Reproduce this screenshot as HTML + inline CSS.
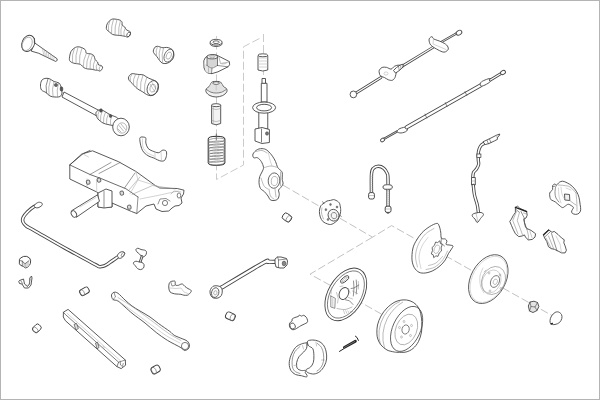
<!DOCTYPE html>
<html><head><meta charset="utf-8"><title>Suspension parts</title>
<style>
html,body{margin:0;padding:0;background:#fff;}
body{width:600px;height:400px;overflow:hidden;font-family:"Liberation Sans",sans-serif;}
.frame{position:absolute;left:0;top:0;width:598px;height:398px;border:1px solid #b4b4b4;background:#fff;}
svg{position:absolute;left:0;top:0;display:block;}
</style></head>
<body><div class="frame"></div>
<svg width="600" height="400" viewBox="0 0 600 400"><path d="M263.5 34 L263.5 100" fill="none" stroke="#cbcbcb" stroke-width="1.0" stroke-dasharray="8 3"/><path d="M259.5 38.5 L243.5 46.75 L243.5 165 L216.5 179.5 L216.5 36" fill="none" stroke="#cbcbcb" stroke-width="1.0" stroke-dasharray="8 3"/><path d="M283 185.1 L372.5 237.2 L391.6 225.6 L560 320" fill="none" stroke="#c2c2c2" stroke-width="1.0" stroke-dasharray="8 3"/><path d="M372.5 237.2 L310 274.2 L346 294" fill="none" stroke="#c2c2c2" stroke-width="1.0" stroke-dasharray="8 3"/><path d="M346 294 L406 328" fill="none" stroke="#c2c2c2" stroke-width="1.0" stroke-dasharray="8 3"/><path d="M34.4 42.7 L56.9 58.6 L57.3 60.3 L55.6 61.4 L38.75 53.3 L31.25 51.1Z" fill="#fff" stroke="#464646" stroke-width="0.9" stroke-linejoin="round" /><path d="M42.27 48.27 L44.15 56.13" fill="none" stroke="#9a9a9a" stroke-width="0.5" stroke-linecap="round" stroke-linejoin="round" /><path d="M44.3 49.7 L45.66 56.86" fill="none" stroke="#9a9a9a" stroke-width="0.5" stroke-linecap="round" stroke-linejoin="round" /><path d="M46.33 51.13 L47.18 57.59" fill="none" stroke="#9a9a9a" stroke-width="0.5" stroke-linecap="round" stroke-linejoin="round" /><path d="M48.35 52.56 L48.7 58.32" fill="none" stroke="#9a9a9a" stroke-width="0.5" stroke-linecap="round" stroke-linejoin="round" /><path d="M50.38 53.99 L50.21 59.05" fill="none" stroke="#9a9a9a" stroke-width="0.5" stroke-linecap="round" stroke-linejoin="round" /><path d="M52.4 55.42 L51.73 59.78" fill="none" stroke="#9a9a9a" stroke-width="0.5" stroke-linecap="round" stroke-linejoin="round" /><path d="M54.42 56.85 L53.25 60.51" fill="none" stroke="#9a9a9a" stroke-width="0.5" stroke-linecap="round" stroke-linejoin="round" /><ellipse cx="28.2" cy="43.4" rx="6.2" ry="8.4" fill="#fff" stroke="#464646" stroke-width="0.9" transform="rotate(24 28.2 43.4)"/><ellipse cx="27.2" cy="43.9" rx="4.6" ry="7" fill="none" stroke="#8a8a8a" stroke-width="0.6" transform="rotate(24 27.2 43.9)"/><path d="M34.4 38.5 L34.4 42.7" fill="none" stroke="#464646" stroke-width="0.9" stroke-linecap="round" stroke-linejoin="round" /><path d="M69.4 58.4 C69.54 56.73 70.08 53.23 71.1 51.4 C72.12 49.57 74.03 48.13 75.5 47.4 C76.97 46.67 78.3 46.63 79.9 47 C81.5 47.37 84.02 48.58 85.1 49.6 C86.18 50.62 85.38 52.37 86.4 53.1 C87.42 53.83 89.95 53.56 91.2 54 C92.45 54.44 93.23 54.8 93.9 55.75 C94.57 56.7 94.62 58.68 95.2 59.7 C95.78 60.73 96.82 61.02 97.4 61.9 C97.98 62.78 98.12 64.42 98.7 65 C99.28 65.58 100.25 65.05 100.9 65.4 C101.55 65.75 102.47 66.38 102.6 67.1 C102.73 67.82 102.2 69.1 101.7 69.75 C101.2 70.4 100.25 70.92 99.6 71 C98.95 71.08 98.47 70.33 97.8 70.2 C97.13 70.07 96.55 70.35 95.6 70.2 C94.65 70.05 93.48 69.52 92.1 69.3 C90.72 69.08 88.68 69.18 87.3 68.9 C85.92 68.62 84.82 68.27 83.8 67.6 C82.78 66.93 82 65.5 81.2 64.9 C80.4 64.3 80.24 64.28 79 64 C77.76 63.72 75.21 63.63 73.75 63.2 C72.29 62.77 70.97 62.2 70.25 61.4 C69.53 60.6 69.26 60.07 69.4 58.4Z" fill="#fff" stroke="#464646" stroke-width="0.9" stroke-linejoin="round" /><path d="M74.5 48 Q71.52 54.98 72.5 62.5" fill="none" stroke="#8c8c8c" stroke-width="0.6" stroke-linecap="round"/><path d="M78 47.2 Q75.01 55.16 76 63.6" fill="none" stroke="#8c8c8c" stroke-width="0.6" stroke-linecap="round"/><path d="M82 47.8 Q78.77 55.7 79.5 64.2" fill="none" stroke="#8c8c8c" stroke-width="0.6" stroke-linecap="round"/><path d="M86.4 53.1 Q82.9 59.72 83.3 67.2" fill="none" stroke="#8c8c8c" stroke-width="0.6" stroke-linecap="round"/><path d="M89.5 53.8 Q86.04 60.8 86.5 68.6" fill="none" stroke="#8c8c8c" stroke-width="0.6" stroke-linecap="round"/><path d="M92.5 55 Q89.28 61.7 90 69.1" fill="none" stroke="#8c8c8c" stroke-width="0.6" stroke-linecap="round"/><path d="M95.2 59.7 Q92.38 64.42 93.5 69.8" fill="none" stroke="#8c8c8c" stroke-width="0.6" stroke-linecap="round"/><path d="M97.8 62.5 Q95.18 66.02 96.5 70.2" fill="none" stroke="#8c8c8c" stroke-width="0.6" stroke-linecap="round"/><path d="M100.9 65.4 Q98.18 67.59 99.3 70.9" fill="none" stroke="#8c8c8c" stroke-width="0.6" stroke-linecap="round"/><path d="M106.4 27 C106.53 25.94 106.69 24.5 107.5 23.25 C108.31 22 110 20.19 111.25 19.5 C112.5 18.81 113.5 18.98 115 19.1 C116.5 19.23 119.07 19.68 120.25 20.25 C121.43 20.82 121.79 21.69 122.1 22.5 C122.41 23.31 121.66 24.35 122.1 25.1 C122.54 25.85 124.12 26.31 124.75 27 C125.38 27.69 125.34 28.62 125.9 29.25 C126.46 29.88 127.35 30.31 128.1 30.75 C128.85 31.19 130.08 31.21 130.4 31.9 C130.72 32.59 130.44 34.03 130 34.9 C129.56 35.77 128.5 36.85 127.75 37.1 C127 37.35 126.25 36.58 125.5 36.4 C124.75 36.22 124 36.13 123.25 36 C122.5 35.87 122 35.73 121 35.6 C120 35.48 118.62 35.43 117.25 35.25 C115.88 35.07 114 35 112.75 34.5 C111.5 34 110.75 33.07 109.75 32.25 C108.75 31.43 107.31 30.48 106.75 29.6 C106.19 28.73 106.28 28.06 106.4 27Z" fill="#fff" stroke="#464646" stroke-width="0.9" stroke-linejoin="round" /><path d="M110 20.3 Q107.67 25.43 108.5 31" fill="none" stroke="#8c8c8c" stroke-width="0.6" stroke-linecap="round"/><path d="M113.5 19.3 Q110.92 26.23 111.5 33.6" fill="none" stroke="#8c8c8c" stroke-width="0.6" stroke-linecap="round"/><path d="M117 19.4 Q114.41 26.89 115 34.8" fill="none" stroke="#8c8c8c" stroke-width="0.6" stroke-linecap="round"/><path d="M120.5 20.4 Q118.01 27.71 118.7 35.4" fill="none" stroke="#8c8c8c" stroke-width="0.6" stroke-linecap="round"/><path d="M122.3 24.5 Q120.06 29.81 121 35.5" fill="none" stroke="#8c8c8c" stroke-width="0.6" stroke-linecap="round"/><path d="M125.3 28 Q123.07 31.74 124 36" fill="none" stroke="#8c8c8c" stroke-width="0.6" stroke-linecap="round"/><ellipse cx="128.6" cy="34.5" rx="1.6" ry="2.4" fill="none" stroke="#464646" stroke-width="0.7" transform="rotate(30 128.6 34.5)"/><path d="M153.25 51.1 C153.31 50.04 154.06 48.21 154.75 47.4 C155.44 46.59 156.53 46.32 157.4 46.25 C158.28 46.18 159.07 46.75 160 47 C160.93 47.25 161.88 47.68 163 47.75 C164.12 47.82 165.5 47.27 166.75 47.4 C168 47.52 169.44 47.88 170.5 48.5 C171.56 49.12 172.53 49.98 173.1 51.1 C173.67 52.23 173.96 53.93 173.9 55.25 C173.84 56.57 173.44 57.88 172.75 59 C172.06 60.12 170.88 61.25 169.75 62 C168.62 62.75 167.25 63.32 166 63.5 C164.75 63.68 163.32 63.6 162.25 63.1 C161.18 62.6 160.47 61.56 159.6 60.5 C158.72 59.44 157.87 57.88 157 56.75 C156.13 55.62 155.03 54.69 154.4 53.75 C153.78 52.81 153.19 52.16 153.25 51.1Z" fill="#fff" stroke="#464646" stroke-width="0.9" stroke-linejoin="round" /><ellipse cx="168.8" cy="55.6" rx="4.3" ry="6.8" fill="none" stroke="#464646" stroke-width="0.7" transform="rotate(25 168.8 55.6)"/><ellipse cx="168.8" cy="55.6" rx="2.3" ry="3.8" fill="none" stroke="#8c8c8c" stroke-width="0.6" transform="rotate(25 168.8 55.6)"/><path d="M157.5 46.5 Q155.21 50.8 156.5 55.5" fill="none" stroke="#8c8c8c" stroke-width="0.6" stroke-linecap="round"/><path d="M160.5 47.2 Q158.21 53.2 159.5 59.5" fill="none" stroke="#8c8c8c" stroke-width="0.6" stroke-linecap="round"/><path d="M163.5 47.8 Q161.2 54.93 162.5 62.3" fill="none" stroke="#8c8c8c" stroke-width="0.6" stroke-linecap="round"/><path d="M128.4 77.9 C128.47 77.05 128.97 76.02 129.6 75.3 C130.23 74.58 131.2 73.8 132.2 73.6 C133.2 73.4 134.47 73.95 135.6 74.1 C136.73 74.25 137.73 74.37 139 74.5 C140.27 74.63 141.93 74.48 143.2 74.9 C144.47 75.32 145.47 76.36 146.6 77 C147.73 77.64 148.72 78.18 150 78.75 C151.28 79.32 153.08 79.76 154.3 80.4 C155.52 81.04 156.6 81.75 157.3 82.6 C158 83.45 158.43 84.17 158.5 85.5 C158.57 86.83 158.27 89.18 157.7 90.6 C157.13 92.02 156.23 93.15 155.1 94 C153.97 94.85 152.32 95.62 150.9 95.7 C149.48 95.78 147.95 95.13 146.6 94.5 C145.25 93.87 144.07 92.68 142.8 91.9 C141.53 91.12 140.2 90.58 139 89.8 C137.8 89.02 136.73 88.27 135.6 87.2 C134.47 86.13 133.27 84.53 132.2 83.4 C131.13 82.27 129.83 81.32 129.2 80.4 C128.57 79.48 128.33 78.75 128.4 77.9Z" fill="#fff" stroke="#464646" stroke-width="0.9" stroke-linejoin="round" /><ellipse cx="152.6" cy="88" rx="5.3" ry="7.6" fill="none" stroke="#464646" stroke-width="0.8" transform="rotate(18 152.6 88)"/><ellipse cx="152.8" cy="88.2" rx="2.8" ry="4" fill="none" stroke="#8c8c8c" stroke-width="0.6" transform="rotate(18 152.8 88.2)"/><path d="M150 84 L155 92" fill="none" stroke="#8c8c8c" stroke-width="0.5" stroke-linecap="round" stroke-linejoin="round" /><path d="M152 82.5 L156 89" fill="none" stroke="#8c8c8c" stroke-width="0.5" stroke-linecap="round" stroke-linejoin="round" /><path d="M132 73.8 Q129.19 77.38 130.3 81.8" fill="none" stroke="#8c8c8c" stroke-width="0.6" stroke-linecap="round"/><path d="M135.6 74.1 Q132.59 79.17 133.5 85" fill="none" stroke="#8c8c8c" stroke-width="0.6" stroke-linecap="round"/><path d="M139.2 74.5 Q136.03 80.9 136.8 88" fill="none" stroke="#8c8c8c" stroke-width="0.6" stroke-linecap="round"/><path d="M143 75 Q139.78 82.43 140.5 90.5" fill="none" stroke="#8c8c8c" stroke-width="0.6" stroke-linecap="round"/><path d="M146.8 77 Q143.67 84.72 144.5 93" fill="none" stroke="#8c8c8c" stroke-width="0.6" stroke-linecap="round"/><path d="M64 92 L100 111 L96 115.5 L62 97Z" fill="#fff" stroke="#464646" stroke-width="0.9" stroke-linejoin="round" /><path d="M40.5 85 C40.58 83.33 41.08 81.12 42 80 C42.92 78.88 44.67 78.47 46 78.3 C47.33 78.13 48.67 78.47 50 79 C51.33 79.53 52.5 80.83 54 81.5 C55.5 82.17 57.83 82.08 59 83 C60.17 83.92 60.5 85.33 61 87 C61.5 88.67 62.17 91.42 62 93 C61.83 94.58 61.17 95.83 60 96.5 C58.83 97.17 56.67 97.08 55 97 C53.33 96.92 51.5 96.75 50 96 C48.5 95.25 47.42 93.5 46 92.5 C44.58 91.5 42.42 91.25 41.5 90 C40.58 88.75 40.42 86.67 40.5 85Z" fill="#fff" stroke="#464646" stroke-width="0.9" stroke-linejoin="round" /><path d="M48 78.6 Q44.86 85.55 46.5 93" fill="none" stroke="#555" stroke-width="0.7" stroke-linecap="round"/><ellipse cx="56" cy="85" rx="1.6" ry="1.6" fill="#666" stroke="#333" stroke-width="0.5"/><path d="M50.5 79.3 Q47.76 87.06 49 95.2" fill="none" stroke="#8c8c8c" stroke-width="0.6" stroke-linecap="round"/><path d="M54 81.5 Q51.5 89.02 53 96.8" fill="none" stroke="#8c8c8c" stroke-width="0.6" stroke-linecap="round"/><path d="M58.5 83 Q56.4 89.89 57.5 97" fill="none" stroke="#8c8c8c" stroke-width="0.6" stroke-linecap="round"/><ellipse cx="61.5" cy="89" rx="1.4" ry="2.2" fill="#555" stroke="#333" stroke-width="0.5"/><path d="M96 112.5 C96.42 111.5 97.83 110.33 99 110 C100.17 109.67 101.5 109.92 103 110.5 C104.5 111.08 106.5 112.67 108 113.5 C109.5 114.33 110.67 114.92 112 115.5 C113.33 116.08 115 116.42 116 117 C117 117.58 117.83 117.67 118 119 C118.17 120.33 117.83 123.92 117 125 C116.17 126.08 114.5 125.58 113 125.5 C111.5 125.42 109.67 124.92 108 124.5 C106.33 124.08 104.67 123.92 103 123 C101.33 122.08 99.08 120.17 98 119 C96.92 117.83 96.83 117.08 96.5 116 C96.17 114.92 95.58 113.5 96 112.5Z" fill="#fff" stroke="#464646" stroke-width="0.9" stroke-linejoin="round" /><path d="M99.5 110 Q97.17 114.24 98 119" fill="none" stroke="#8c8c8c" stroke-width="0.6" stroke-linecap="round"/><path d="M102.5 110.5 Q99.93 115.71 100.5 121.5" fill="none" stroke="#8c8c8c" stroke-width="0.6" stroke-linecap="round"/><path d="M105.5 112 Q102.93 117.21 103.5 123" fill="none" stroke="#8c8c8c" stroke-width="0.6" stroke-linecap="round"/><path d="M108.5 113.7 Q105.93 118.55 106.5 124" fill="none" stroke="#8c8c8c" stroke-width="0.6" stroke-linecap="round"/><path d="M112 115.5 Q109.67 120 110.5 125" fill="none" stroke="#8c8c8c" stroke-width="0.6" stroke-linecap="round"/><ellipse cx="101" cy="110.5" rx="1.3" ry="1.8" fill="#555" stroke="#333" stroke-width="0.5"/><ellipse cx="110.5" cy="116" rx="1.2" ry="1.5" fill="#555" stroke="#333" stroke-width="0.5"/><ellipse cx="121" cy="127" rx="8.3" ry="8.8" fill="#fff" stroke="#464646" stroke-width="0.9"/><ellipse cx="122" cy="128" rx="4.8" ry="5.2" fill="none" stroke="#8c8c8c" stroke-width="0.6"/><path d="M119 125.5 L123.5 131" fill="none" stroke="#8c8c8c" stroke-width="0.6" stroke-linecap="round" stroke-linejoin="round" /><path d="M121 124 L125.5 129.5" fill="none" stroke="#8c8c8c" stroke-width="0.6" stroke-linecap="round" stroke-linejoin="round" /><path d="M118 129 L121 132" fill="none" stroke="#8c8c8c" stroke-width="0.6" stroke-linecap="round" stroke-linejoin="round" /><ellipse cx="216.1" cy="43.6" rx="6" ry="2.9" fill="#fff" stroke="#464646" stroke-width="0.9"/><ellipse cx="216.1" cy="42.2" rx="6" ry="2.9" fill="#fff" stroke="#464646" stroke-width="0.9"/><ellipse cx="216.1" cy="42.2" rx="3.1" ry="1.4" fill="none" stroke="#464646" stroke-width="0.8"/><path d="M203.8 60.8 L205.2 57.8 L207.5 56 L212.2 54.6 L216.8 55.2 L218.8 56.2 L229.4 61.6 L229.6 64.8 L228 66.8 L218 71.8 L212 73.6 L208.4 73.4 L205.5 71.2 L204 67.8Z" fill="#fff" stroke="#464646" stroke-width="0.9" stroke-linejoin="round" /><path d="M207 57 L207 65.5 Q212 68.5 217.5 65.5 L217.5 57 Z" fill="#d6d6d6" stroke="none"/><path d="M204.3 62 L207 66 L212 68.3 L211 73.2 L208.4 73.2 L205.5 71 Z" fill="#e6e6e6" stroke="none"/><ellipse cx="212.2" cy="56.8" rx="5.3" ry="2.1" fill="#efefef" stroke="#464646" stroke-width="0.8"/><ellipse cx="212.2" cy="56.8" rx="2.6" ry="1" fill="none" stroke="#8c8c8c" stroke-width="0.6"/><path d="M207 57 L207 65.5" fill="none" stroke="#464646" stroke-width="0.7" stroke-linecap="round" stroke-linejoin="round" /><path d="M217.5 57 L217.5 65.5" fill="none" stroke="#464646" stroke-width="0.7" stroke-linecap="round" stroke-linejoin="round" /><path d="M207 65.5 C207.83 65.92 210.25 68 212 68 C213.75 68 216.58 65.92 217.5 65.5" fill="none" stroke="#464646" stroke-width="0.6" stroke-linecap="round" stroke-linejoin="round" /><path d="M217.5 65.5 L228 66.8" fill="none" stroke="#464646" stroke-width="0.6" stroke-linecap="round" stroke-linejoin="round" /><path d="M218.8 56.4 L220.5 63.5 L229.4 62" fill="none" stroke="#8c8c8c" stroke-width="0.6" stroke-linecap="round" stroke-linejoin="round" /><path d="M212 68 L211.5 73.4" fill="none" stroke="#464646" stroke-width="0.6" stroke-linecap="round" stroke-linejoin="round" /><path d="M222 64 L226 63.6" fill="none" stroke="#8c8c8c" stroke-width="0.5" stroke-linecap="round" stroke-linejoin="round" /><path d="M208.5 67.5 L208.5 72.5" fill="none" stroke="#8c8c8c" stroke-width="0.5" stroke-linecap="round" stroke-linejoin="round" /><path d="M211.4 82.6 C212.03 81.8 212.23 81.9 213 81.7 C213.77 81.5 214.92 81.4 216 81.4 C217.08 81.4 218.63 81.47 219.5 81.7 C220.37 81.93 220.53 82 221.2 82.8 C221.87 83.6 222.6 85.5 223.5 86.5 C224.4 87.5 226.08 87.85 226.6 88.8 C227.12 89.75 227.28 91.07 226.6 92.2 C225.92 93.33 224.25 94.8 222.5 95.6 C220.75 96.4 218.18 97 216.1 97 C214.02 97 211.65 96.4 210 95.6 C208.35 94.8 206.82 93.33 206.2 92.2 C205.58 91.07 205.8 89.75 206.3 88.8 C206.8 87.85 208.35 87.53 209.2 86.5 C210.05 85.47 210.77 83.4 211.4 82.6Z" fill="#f1f1f1" stroke="#464646" stroke-width="0.9" stroke-linejoin="round" /><path d="M211.5 83 Q209.5 88 206.8 89.5 Q216 95 226 89.5 Q223 88 221 83 Z" fill="#e2e2e2" stroke="none"/><ellipse cx="216.1" cy="83.1" rx="3.3" ry="1.3" fill="#fff" stroke="#464646" stroke-width="0.8"/><path d="M206.5 89.5 C207.25 89.95 209.38 91.62 211 92.2 C212.62 92.78 214.45 93 216.2 93 C217.95 93 219.83 92.78 221.5 92.2 C223.17 91.62 225.42 89.95 226.2 89.5" fill="none" stroke="#464646" stroke-width="0.7" stroke-linecap="round" stroke-linejoin="round" /><path d="M216.2 85 L216.2 90" fill="none" stroke="#aaa" stroke-width="0.5" stroke-linecap="round" stroke-linejoin="round" /><path d="M211.6 105 L220.7 105 L220.7 123.5 L216.1 124.8 L211.6 123.5Z" fill="#f3f3f3" stroke="#464646" stroke-width="0.9" stroke-linejoin="round" /><ellipse cx="216.15" cy="105.2" rx="4.55" ry="1.5" fill="#fff" stroke="#464646" stroke-width="0.9"/><path d="M213.3 107 L213.3 122.5" fill="none" stroke="#aaa" stroke-width="0.6" stroke-linecap="round" stroke-linejoin="round" /><path d="M211.8 108.5 L216.1 109.6 L220.5 108.5" fill="none" stroke="#8c8c8c" stroke-width="0.5" stroke-linecap="round" stroke-linejoin="round" /><path d="M211.8 120.5 L216.1 121.6 L220.5 120.5" fill="none" stroke="#8c8c8c" stroke-width="0.5" stroke-linecap="round" stroke-linejoin="round" /><path d="M208.2 139 Q208.2 136.3 216.5 136.3 Q224.9 136.3 224.9 139 L224.9 162.8 Q224.9 165.3 216.5 165.3 Q208.2 165.3 208.2 162.8 Z" fill="#fff" stroke="#2c2c2c" stroke-width="1"/><ellipse cx="216.5" cy="140.2" rx="8" ry="2" fill="none" stroke="#5a5a5a" stroke-width="0.55" transform="rotate(-4 216.5 140.2)"/><ellipse cx="216.5" cy="143.06" rx="8" ry="2" fill="none" stroke="#5a5a5a" stroke-width="0.55" transform="rotate(-4 216.5 143.06)"/><ellipse cx="216.5" cy="145.92" rx="8" ry="2" fill="none" stroke="#5a5a5a" stroke-width="0.55" transform="rotate(-4 216.5 145.92)"/><ellipse cx="216.5" cy="148.78" rx="8" ry="2" fill="none" stroke="#5a5a5a" stroke-width="0.55" transform="rotate(-4 216.5 148.78)"/><ellipse cx="216.5" cy="151.64" rx="8" ry="2" fill="none" stroke="#5a5a5a" stroke-width="0.55" transform="rotate(-4 216.5 151.64)"/><ellipse cx="216.5" cy="154.5" rx="8" ry="2" fill="none" stroke="#5a5a5a" stroke-width="0.55" transform="rotate(-4 216.5 154.5)"/><ellipse cx="216.5" cy="157.36" rx="8" ry="2" fill="none" stroke="#5a5a5a" stroke-width="0.55" transform="rotate(-4 216.5 157.36)"/><ellipse cx="216.5" cy="160.22" rx="8" ry="2" fill="none" stroke="#5a5a5a" stroke-width="0.55" transform="rotate(-4 216.5 160.22)"/><ellipse cx="216.5" cy="163.08" rx="8" ry="2" fill="none" stroke="#5a5a5a" stroke-width="0.55" transform="rotate(-4 216.5 163.08)"/><path d="M216.3 134 L216.3 140" fill="none" stroke="#444" stroke-width="0.7" stroke-linecap="round" stroke-linejoin="round" /><path d="M258 55.5 L267.75 55.5 L267.75 70 L262.8 71 L258 70Z" fill="#fff" stroke="#464646" stroke-width="0.9" stroke-linejoin="round" /><ellipse cx="262.9" cy="55.3" rx="4.9" ry="1.5" fill="#fff" stroke="#464646" stroke-width="0.9"/><path d="M258.3 58 L267.5 58" fill="none" stroke="#b5b5b5" stroke-width="0.6" stroke-linecap="round" stroke-linejoin="round" /><path d="M258.3 61 L267.5 61" fill="none" stroke="#b5b5b5" stroke-width="0.6" stroke-linecap="round" stroke-linejoin="round" /><path d="M258.3 64 L267.5 64" fill="none" stroke="#b5b5b5" stroke-width="0.6" stroke-linecap="round" stroke-linejoin="round" /><path d="M258.3 67 L267.5 67" fill="none" stroke="#b5b5b5" stroke-width="0.6" stroke-linecap="round" stroke-linejoin="round" /><path d="M262 78.5 L265.5 78.5 L265.5 83.5 L262 83.5Z" fill="#fff" stroke="#464646" stroke-width="0.9" stroke-linejoin="round" /><path d="M261.3 83.3 L267 83.3 L267 102 L261.3 102Z" fill="#fff" stroke="#464646" stroke-width="0.9" stroke-linejoin="round" /><path d="M258.8 110 L267.75 110 L267.75 129 L258.8 129Z" fill="#fff" stroke="#464646" stroke-width="0.9" stroke-linejoin="round" /><ellipse cx="264.1" cy="107.6" rx="11.5" ry="5.6" fill="#fff" stroke="#464646" stroke-width="0.9"/><ellipse cx="264.1" cy="107.6" rx="7.5" ry="3.3" fill="none" stroke="#464646" stroke-width="0.9"/><path d="M255 129 L262 127.5 L269.4 129.5 L269.4 142.5 L262 143.5 L255 141Z" fill="#fff" stroke="#464646" stroke-width="0.9" stroke-linejoin="round" /><path d="M261.5 129 L261.5 142" fill="none" stroke="#464646" stroke-width="0.7" stroke-linecap="round" stroke-linejoin="round" /><ellipse cx="267" cy="133.5" rx="1.5" ry="1.7" fill="#777" stroke="#464646" stroke-width="0.6"/><path d="M253 154 C253.62 152.62 255.75 150.38 257.5 149.5 C259.25 148.62 261.75 148.5 263.5 148.75 C265.25 149 266.5 149.75 268 151 C269.5 152.25 271.25 154.5 272.5 156.25 C273.75 158 274.62 159.62 275.5 161.5 C276.38 163.38 276.88 166 277.75 167.5 C278.62 169 280 169.62 280.75 170.5 C281.5 171.38 282 171.25 282.25 172.75 C282.5 174.25 282.12 177.62 282.25 179.5 C282.38 181.38 283.38 182.5 283 184 C282.62 185.5 280.75 187.5 280 188.5 C279.25 189.5 278.62 189 278.5 190 C278.38 191 279.38 193 279.25 194.5 C279.12 196 278.62 198 277.75 199 C276.88 200 275.25 200.38 274 200.5 C272.75 200.62 271.25 200.5 270.25 199.75 C269.25 199 269 197.38 268 196 C267 194.62 265.5 192.75 264.25 191.5 C263 190.25 261.38 190 260.5 188.5 C259.62 187 259.12 184.5 259 182.5 C258.88 180.5 259.25 178.25 259.75 176.5 C260.25 174.75 261.38 173.5 262 172 C262.62 170.5 263.62 169.25 263.5 167.5 C263.38 165.75 262.25 163.12 261.25 161.5 C260.25 159.88 258.75 158.38 257.5 157.75 C256.25 157.12 254.5 158.38 253.75 157.75 C253 157.12 252.38 155.38 253 154Z" fill="#fff" stroke="#464646" stroke-width="0.9" stroke-linejoin="round" /><ellipse cx="274" cy="180.6" rx="5.8" ry="7.7" fill="none" stroke="#464646" stroke-width="0.8" transform="rotate(5 274 180.6)"/><ellipse cx="274.5" cy="181" rx="3.2" ry="4.6" fill="none" stroke="#8c8c8c" stroke-width="0.6" transform="rotate(5 274.5 181)"/><path d="M256 151.5 C257 151.33 260.17 150.25 262 150.5 C263.83 150.75 266.17 152.58 267 153" fill="none" stroke="#8c8c8c" stroke-width="0.6" stroke-linecap="round" stroke-linejoin="round" /><path d="M264.5 167.5 C265.58 167.25 268.83 166 271 166 C273.17 166 276.42 167.25 277.5 167.5" fill="none" stroke="#8c8c8c" stroke-width="0.6" stroke-linecap="round" stroke-linejoin="round" /><path d="M268 151 C268.33 152.5 269.33 157.5 270 160 C270.67 162.5 271.67 165 272 166" fill="none" stroke="#aaa" stroke-width="0.5" stroke-linecap="round" stroke-linejoin="round" /><path d="M261 178 C261.5 179.33 262.83 184.17 264 186 C265.17 187.83 267.33 188.5 268 189" fill="none" stroke="#8c8c8c" stroke-width="0.6" stroke-linecap="round" stroke-linejoin="round" /><path d="M269 189 C269.25 190.17 269.67 194.33 270.5 196 C271.33 197.67 273.42 198.5 274 199" fill="none" stroke="#8c8c8c" stroke-width="0.6" stroke-linecap="round" stroke-linejoin="round" /><path d="M275 189 L276 197" fill="none" stroke="#8c8c8c" stroke-width="0.6" stroke-linecap="round" stroke-linejoin="round" /><path d="M280.5 172 L280.5 186" fill="none" stroke="#8c8c8c" stroke-width="0.6" stroke-linecap="round" stroke-linejoin="round" /><path d="M355.7 93.25 L381 77.5" fill="none" stroke="#464646" stroke-width="2.7" stroke-linecap="round" stroke-linejoin="round"/><path d="M355.7 93.25 L381 77.5" fill="none" stroke="#fff" stroke-width="1.2" stroke-linecap="round" stroke-linejoin="round"/><path d="M402.5 66 L433.1 47.3" fill="none" stroke="#464646" stroke-width="2.7" stroke-linecap="round" stroke-linejoin="round"/><path d="M402.5 66 L433.1 47.3" fill="none" stroke="#fff" stroke-width="1.2" stroke-linecap="round" stroke-linejoin="round"/><path d="M441 42.25 L456.75 33.25" fill="none" stroke="#464646" stroke-width="2.3" stroke-linecap="round" stroke-linejoin="round"/><path d="M441 42.25 L456.75 33.25" fill="none" stroke="#fff" stroke-width="0.8" stroke-linecap="round" stroke-linejoin="round"/><ellipse cx="353.4" cy="94.4" rx="3.3" ry="3.4" fill="#fff" stroke="#464646" stroke-width="0.9"/><path d="M379.3 70.2 C379.77 69.27 380.88 67.87 382.1 67.4 C383.32 66.93 385.1 67.12 386.6 67.4 C388.1 67.68 389.78 69.29 391.1 69.1 C392.42 68.91 393.18 66.92 394.5 66.25 C395.82 65.58 397.68 65.01 399 65.1 C400.32 65.19 402.22 66.05 402.4 66.8 C402.58 67.55 401.05 68.75 400.1 69.6 C399.15 70.45 397.55 70.58 396.7 71.9 C395.85 73.22 395.74 76.1 395 77.5 C394.26 78.9 393.37 79.92 392.25 80.3 C391.13 80.67 389.61 80.22 388.3 79.75 C386.99 79.28 385.72 78.16 384.4 77.5 C383.08 76.84 381.25 76.55 380.4 75.8 C379.55 75.05 379.48 73.93 379.3 73 C379.12 72.07 378.83 71.13 379.3 70.2Z" fill="#fff" stroke="#464646" stroke-width="0.9" stroke-linejoin="round" /><ellipse cx="386" cy="73.5" rx="2" ry="1.6" fill="none" stroke="#b5b5b5" stroke-width="0.6"/><path d="M393.5 70.5 L396.5 67.5 L400.5 64.8 L403.2 64.2 L404 66 L401.5 68.5 L398 71.5 L395.5 73Z" fill="#fff" stroke="#464646" stroke-width="0.9" stroke-linejoin="round" /><path d="M398.51 66.51 L399.11 69.71" fill="none" stroke="#464646" stroke-width="0.5" stroke-linecap="round" stroke-linejoin="round" /><path d="M400.52 65.52 L401.12 68.72" fill="none" stroke="#464646" stroke-width="0.5" stroke-linecap="round" stroke-linejoin="round" /><path d="M402.19 64.7 L402.8 67.9" fill="none" stroke="#464646" stroke-width="0.5" stroke-linecap="round" stroke-linejoin="round" /><path d="M429.2 38.9 C429.57 37.77 431.25 36.6 432 36.6 C432.75 36.6 432.2 38.05 433.7 38.9 C435.2 39.75 438.85 40.68 441 41.7 C443.15 42.72 445.38 43.78 446.6 45 C447.82 46.22 448.48 47.87 448.3 49 C448.12 50.13 446.53 51.33 445.5 51.8 C444.47 52.27 443.6 52.27 442.1 51.8 C440.6 51.33 438.18 49.93 436.5 49 C434.82 48.07 433.12 47.13 432 46.2 C430.88 45.27 430.22 44.62 429.75 43.4 C429.28 42.18 428.82 40.03 429.2 38.9Z" fill="#fff" stroke="#464646" stroke-width="0.9" stroke-linejoin="round" /><path d="M433.5 39 L433 44 L446 49.5" fill="none" stroke="#b5b5b5" stroke-width="0.6" stroke-linecap="round" stroke-linejoin="round" /><ellipse cx="459" cy="32.7" rx="3" ry="2.2" fill="#fff" stroke="#464646" stroke-width="0.9" transform="rotate(-30 459 32.7)"/><path d="M384.2 138.8 L397 131.5" fill="none" stroke="#464646" stroke-width="2.4" stroke-linecap="round" stroke-linejoin="round"/><path d="M384.2 138.8 L397 131.5" fill="none" stroke="#fff" stroke-width="0.6" stroke-linecap="round" stroke-linejoin="round"/><ellipse cx="382.5" cy="140" rx="2.1" ry="1.7" fill="#fff" stroke="#464646" stroke-width="0.9" transform="rotate(-30 382.5 140)"/><path d="M397 131.5 C396.83 130.75 398.38 129.22 400 128.5 C401.62 127.78 405.58 126.78 406.7 127.2 C407.82 127.62 407.65 130.03 406.7 131 C405.75 131.97 402.62 132.92 401 133 C399.38 133.08 397.17 132.25 397 131.5Z" fill="#fff" stroke="#464646" stroke-width="0.9" stroke-linejoin="round" /><path d="M406.7 127.3 L480.8 85.3" fill="none" stroke="#464646" stroke-width="4" stroke-linecap="round" stroke-linejoin="round"/><path d="M406.7 127.3 L480.8 85.3" fill="none" stroke="#fff" stroke-width="2.4" stroke-linecap="round" stroke-linejoin="round"/><path d="M425 114.1 L426.8 118.1" fill="none" stroke="#464646" stroke-width="0.6" stroke-linecap="round" stroke-linejoin="round" /><path d="M445.3 102.6 L447.1 106.6" fill="none" stroke="#464646" stroke-width="0.6" stroke-linecap="round" stroke-linejoin="round" /><path d="M465 91.5 L466.8 95.5" fill="none" stroke="#464646" stroke-width="0.6" stroke-linecap="round" stroke-linejoin="round" /><path d="M480.8 82.5 C481.5 81.5 483.4 80.67 485 80 C486.6 79.33 489.5 78.25 490.4 78.5 C491.3 78.75 491.3 80.42 490.4 81.5 C489.5 82.58 486.6 84.25 485 85 C483.4 85.75 481.5 86.42 480.8 86 C480.1 85.58 480.1 83.5 480.8 82.5Z" fill="#fff" stroke="#464646" stroke-width="0.9" stroke-linejoin="round" /><path d="M490.4 80 L500.6 73.8" fill="none" stroke="#464646" stroke-width="3" stroke-linecap="round" stroke-linejoin="round"/><path d="M490.4 80 L500.6 73.8" fill="none" stroke="#fff" stroke-width="1.2" stroke-linecap="round" stroke-linejoin="round"/><ellipse cx="503" cy="72.5" rx="2.6" ry="1.9" fill="#fff" stroke="#464646" stroke-width="0.9" transform="rotate(-30 503 72.5)"/><path d="M484 143.4 C483.5 143.75 481.83 144.48 481 145.5 C480.17 146.52 479.47 148.08 479 149.5 C478.53 150.92 478.32 152.25 478.2 154 C478.08 155.75 478.23 158.25 478.3 160 C478.37 161.75 478.9 163 478.6 164.5 C478.3 166 477.35 167.67 476.5 169 C475.65 170.33 474.12 171.17 473.5 172.5 C472.88 173.83 472.92 176.25 472.8 177" fill="none" stroke="#464646" stroke-width="3.3" stroke-linecap="round" stroke-linejoin="round"/><path d="M484 143.4 C483.5 143.75 481.83 144.48 481 145.5 C480.17 146.52 479.47 148.08 479 149.5 C478.53 150.92 478.32 152.25 478.2 154 C478.08 155.75 478.23 158.25 478.3 160 C478.37 161.75 478.9 163 478.6 164.5 C478.3 166 477.35 167.67 476.5 169 C475.65 170.33 474.12 171.17 473.5 172.5 C472.88 173.83 472.92 176.25 472.8 177" fill="none" stroke="#fff" stroke-width="1.5" stroke-linecap="round" stroke-linejoin="round"/><path d="M483 141.8 L490 138.5 L496.5 135.2 L499.8 134 L499 136 L497.6 137 L497.4 139.4 L494.3 141 L489 143.5 L485.2 144.6Z" fill="#fff" stroke="#464646" stroke-width="0.9" stroke-linejoin="round" /><path d="M487 140.4 L488.5 143.8" fill="none" stroke="#464646" stroke-width="0.6" stroke-linecap="round" stroke-linejoin="round" /><path d="M489.5 139.2 L491 142.6" fill="none" stroke="#464646" stroke-width="0.6" stroke-linecap="round" stroke-linejoin="round" /><path d="M496.5 135.5 L497.4 139.2" fill="none" stroke="#8c8c8c" stroke-width="0.5" stroke-linecap="round" stroke-linejoin="round" /><rect x="476.9" y="154" width="4" height="3.6" fill="#fff" stroke="#333" stroke-width="0.7"/><path d="M471.5 177.5 L475.3 177.5 L475.3 185 L471.5 185Z" fill="#fff" stroke="#464646" stroke-width="0.9" stroke-linejoin="round" /><path d="M471.6 181 L475.2 181" fill="none" stroke="#8c8c8c" stroke-width="0.5" stroke-linecap="round" stroke-linejoin="round" /><path d="M473.3 185.5 C473.5 187.08 473.83 191.75 474.5 195 C475.17 198.25 476.67 202.17 477.3 205 C477.93 207.83 478.13 210.83 478.3 212" fill="none" stroke="#464646" stroke-width="3.3" stroke-linecap="round" stroke-linejoin="round"/><path d="M473.3 185.5 C473.5 187.08 473.83 191.75 474.5 195 C475.17 198.25 476.67 202.17 477.3 205 C477.93 207.83 478.13 210.83 478.3 212" fill="none" stroke="#fff" stroke-width="1.5" stroke-linecap="round" stroke-linejoin="round"/><path d="M472.4 214.5 C472.93 213.83 474.57 213.33 476 213 C477.43 212.67 479.75 212.25 481 212.5 C482.25 212.75 483.58 213.5 483.5 214.5 C483.42 215.5 481.53 217.17 480.5 218.5 C479.47 219.83 478.22 222.42 477.3 222.5 C476.38 222.58 475.75 219.92 475 219 C474.25 218.08 473.23 217.75 472.8 217 C472.37 216.25 471.87 215.17 472.4 214.5Z" fill="#fff" stroke="#464646" stroke-width="0.9" stroke-linejoin="round" /><path d="M476 213.2 L477.3 219 L477.3 222" fill="none" stroke="#8c8c8c" stroke-width="0.5" stroke-linecap="round" stroke-linejoin="round" /><path d="M550.3 198.6 C549.92 197.38 549.37 194.5 549.75 193 C550.13 191.5 552.12 190.82 552.6 189.6 C553.08 188.38 552.23 186.63 552.6 185.7 C552.97 184.77 554.15 184.1 554.8 184 C555.45 183.9 555.75 185.38 556.5 185.1 C557.25 184.82 558.27 182.95 559.3 182.3 C560.33 181.65 561.38 181.1 562.7 181.2 C564.02 181.3 565.61 182.06 567.2 182.9 C568.79 183.74 570.66 184.75 572.25 186.25 C573.84 187.75 575.62 190.03 576.75 191.9 C577.88 193.78 578.44 195.44 579 197.5 C579.56 199.56 579.82 202.18 580.1 204.25 C580.38 206.32 580.88 208.4 580.7 209.9 C580.52 211.4 579.85 212.5 579 213.25 C578.15 214 576.73 214.4 575.6 214.4 C574.48 214.4 572.9 213.82 572.25 213.25 C571.6 212.68 571.51 211.94 571.7 211 C571.89 210.06 573.4 208.45 573.4 207.6 C573.4 206.75 572.55 206.46 571.7 205.9 C570.85 205.34 569.33 204.25 568.3 204.25 C567.27 204.25 566.43 205.34 565.5 205.9 C564.57 206.46 563.63 207.6 562.7 207.6 C561.77 207.6 561.12 206.83 559.9 205.9 C558.68 204.97 556.72 202.93 555.4 202 C554.08 201.07 552.85 200.87 552 200.3 C551.15 199.73 550.67 199.82 550.3 198.6Z" fill="#fff" stroke="#464646" stroke-width="0.9" stroke-linejoin="round" /><path d="M564.5 194 L569.5 194.5 L569.8 200.5 L564.8 200 Z" fill="#f0f0f0" stroke="#333" stroke-width="0.8"/><path d="M555.5 187.5 C555.42 188.42 554.92 191.25 555 193 C555.08 194.75 555.33 196.5 556 198 C556.67 199.5 558.5 201.33 559 202" fill="none" stroke="#464646" stroke-width="0.6" stroke-linecap="round" stroke-linejoin="round" /><path d="M558 185 C559 185.08 562 185.17 564 185.5 C566 185.83 568 185.75 570 187 C572 188.25 575 192 576 193" fill="none" stroke="#8c8c8c" stroke-width="0.6" stroke-linecap="round" stroke-linejoin="round" /><path d="M576 193 C576.13 194.5 576.63 199 576.8 202 C576.97 205 576.97 209.5 577 211" fill="none" stroke="#8c8c8c" stroke-width="0.6" stroke-linecap="round" stroke-linejoin="round" /><path d="M569.8 200.5 L573 203 L576 205" fill="none" stroke="#8c8c8c" stroke-width="0.6" stroke-linecap="round" stroke-linejoin="round" /><path d="M558.5 188 C558.58 189.33 558.58 193.5 559 196 C559.42 198.5 560.67 201.83 561 203" fill="none" stroke="#aaa" stroke-width="0.5" stroke-linecap="round" stroke-linejoin="round" /><path d="M561 187 C561.17 188.17 561.42 192 562 194 C562.58 196 564.08 198.17 564.5 199" fill="none" stroke="#aaa" stroke-width="0.5" stroke-linecap="round" stroke-linejoin="round" /><path d="M566 188 L571 190" fill="none" stroke="#aaa" stroke-width="0.5" stroke-linecap="round" stroke-linejoin="round" /><path d="M553 186.5 L556.3 186" fill="none" stroke="#464646" stroke-width="0.6" stroke-linecap="round" stroke-linejoin="round" /><path d="M515.4 207.3 L517.6 206.2 L519.9 208.4 L526.6 211.25 L527.2 215.2 L526 218 L523.8 219.1 L524.4 222.5 L525.5 227 L527.2 228.7 L531.1 230.4 L535.6 233.75 L535 237.1 L532.25 239.4 L528.3 240 L525.5 237.1 L524.4 234.9 L522.1 236 L518.75 236.6 L515.4 233.75 L513.1 229.25 L511.4 225.3 L509.75 221.4 L511.4 219.1 L513.1 215.75 L515.4 212.4Z" fill="#fff" stroke="#464646" stroke-width="0.9" stroke-linejoin="round" /><path d="M516.5 211.5 L512.75 220.5 L518 234" fill="none" stroke="#8c8c8c" stroke-width="0.6" stroke-linecap="round" stroke-linejoin="round" /><path d="M519.5 212.25 L517.25 220.5 L522.5 234.75" fill="none" stroke="#8c8c8c" stroke-width="0.6" stroke-linecap="round" stroke-linejoin="round" /><path d="M521 211.5 L524 217.5 L524.5 222.5 L527 229.5" fill="none" stroke="#464646" stroke-width="0.6" stroke-linecap="round" stroke-linejoin="round" /><path d="M527 229.5 L528.5 236 L528.3 240" fill="none" stroke="#8c8c8c" stroke-width="0.6" stroke-linecap="round" stroke-linejoin="round" /><path d="M530 231.5 L532 237.5" fill="none" stroke="#8c8c8c" stroke-width="0.5" stroke-linecap="round" stroke-linejoin="round" /><path d="M515.4 207.3 L526.6 211.6" fill="none" stroke="#222" stroke-width="1.3" stroke-linecap="round" stroke-linejoin="round" /><path d="M516 209.5 L519 212" fill="none" stroke="#464646" stroke-width="0.6" stroke-linecap="round" stroke-linejoin="round" /><path d="M523.5 213 L526.5 214" fill="none" stroke="#8c8c8c" stroke-width="0.6" stroke-linecap="round" stroke-linejoin="round" /><path d="M543.25 234.5 L548.5 229.7 L552 232.3 L554.2 231.4 L558.1 234.5 L561.6 238 L564.25 239.75 L563.8 242.8 L565.1 245.9 L566.4 250.25 L565.1 252.9 L561.6 252.9 L558.1 251.1 L554.6 249.4 L551.1 248.5 L548.5 246.75 L546.75 241.5 L544.6 238Z" fill="#fff" stroke="#464646" stroke-width="0.9" stroke-linejoin="round" /><path d="M543.5 235 L548.75 230.2" fill="none" stroke="#222" stroke-width="1.1" stroke-linecap="round" stroke-linejoin="round" /><path d="M545.2 236.6 L550.5 231.5" fill="none" stroke="#464646" stroke-width="0.6" stroke-linecap="round" stroke-linejoin="round" /><path d="M546 238 L551.5 249" fill="none" stroke="#8c8c8c" stroke-width="0.6" stroke-linecap="round" stroke-linejoin="round" /><path d="M548.5 236 L554 249.5" fill="none" stroke="#8c8c8c" stroke-width="0.6" stroke-linecap="round" stroke-linejoin="round" /><path d="M551.5 233.5 L557 250.8" fill="none" stroke="#464646" stroke-width="0.6" stroke-linecap="round" stroke-linejoin="round" /><path d="M556 236 L560 244 L561.6 252.9" fill="none" stroke="#aaa" stroke-width="0.5" stroke-linecap="round" stroke-linejoin="round" /><path d="M139.8 138.3 C140.02 137.87 140.22 137.15 141.1 137 C141.98 136.85 144.3 137.11 145.1 137.4 C145.9 137.69 145.77 137.8 145.9 138.75 C146.03 139.7 145.53 141.49 145.9 143.1 C146.27 144.71 147 147.08 148.1 148.4 C149.2 149.72 150.82 150.28 152.5 151 C154.18 151.72 156.74 152.75 158.2 152.75 C159.66 152.75 160.45 151.44 161.25 151 C162.05 150.56 162.19 150.1 163 150.1 C163.81 150.1 165.52 150.12 166.1 151 C166.68 151.88 166.72 153.87 166.5 155.4 C166.28 156.93 165.62 159.25 164.75 160.2 C163.88 161.15 162.49 161.17 161.25 161.1 C160.01 161.03 158.54 160.27 157.3 159.75 C156.06 159.23 155.18 158.58 153.8 158 C152.42 157.42 150.6 157.12 149 156.25 C147.4 155.38 145.43 154.06 144.2 152.75 C142.97 151.44 142.26 150.01 141.6 148.4 C140.94 146.79 140.55 144.57 140.25 143.1 C139.95 141.63 139.88 140.4 139.8 139.6 C139.73 138.8 139.58 138.73 139.8 138.3Z" fill="#fff" stroke="#464646" stroke-width="0.9" stroke-linejoin="round" /><path d="M142.5 139 C142.58 140.33 142.25 144.75 143 147 C143.75 149.25 145.17 151 147 152.5 C148.83 154 152.83 155.42 154 156" fill="none" stroke="#b5b5b5" stroke-width="0.6" stroke-linecap="round" stroke-linejoin="round" /><path d="M155 152 L155 158" fill="none" stroke="#b5b5b5" stroke-width="0.6" stroke-linecap="round" stroke-linejoin="round" /><path d="M161 152 L161.5 160.5" fill="none" stroke="#b5b5b5" stroke-width="0.6" stroke-linecap="round" stroke-linejoin="round" /><path d="M69.8 164.9 L81.7 154.1 L92.5 150.8 L118.5 161.7 L135.8 171.4 L155.3 185.5 L159.8 188 L177.25 188.5 L184 190.2 L183.5 194 L181 198 L182 203 L179 205.5 L175 206 L172 208 L168.8 211 L162 211.5 L156 209 L154 204 L146 206 L136.75 213.5 L131.5 211.5 L112 203 L112 207 L98 207 L98 193 L96.8 192 L69.8 179Z" fill="#fff" stroke="#464646" stroke-width="0.9" stroke-linejoin="round" /><path d="M69.8 164.9 L90 174.5 L100.5 178.3 L126 188.8 L138 197" fill="none" stroke="#464646" stroke-width="0.8" stroke-linecap="round" stroke-linejoin="round" /><path d="M69.8 164.9 L83.25 153.5 L90 150.5" fill="none" stroke="#464646" stroke-width="0.8" stroke-linecap="round" stroke-linejoin="round" /><path d="M90 174.5 L111 162.5" fill="none" stroke="#555" stroke-width="0.6" stroke-linecap="round" stroke-linejoin="round" /><path d="M99 173.5 L120 162.5" fill="none" stroke="#555" stroke-width="0.6" stroke-linecap="round" stroke-linejoin="round" /><path d="M124.5 188 L135 173" fill="none" stroke="#555" stroke-width="0.6" stroke-linecap="round" stroke-linejoin="round" /><path d="M128.5 190.5 L140 177" fill="none" stroke="#8c8c8c" stroke-width="0.5" stroke-linecap="round" stroke-linejoin="round" /><path d="M135.8 171.4 L138 180 L130 193.6" fill="none" stroke="#b5b5b5" stroke-width="0.6" stroke-linecap="round" stroke-linejoin="round" /><path d="M138 180 L155.3 185.5 L160 188" fill="none" stroke="#b5b5b5" stroke-width="0.6" stroke-linecap="round" stroke-linejoin="round" /><path d="M132 194.5 L152.5 185.5 L175 189" fill="none" stroke="#8c8c8c" stroke-width="0.5" stroke-linecap="round" stroke-linejoin="round" /><path d="M138 197 L136.75 213.5" fill="none" stroke="#464646" stroke-width="0.6" stroke-linecap="round" stroke-linejoin="round" /><path d="M87 179 L87 186.5" fill="none" stroke="#8c8c8c" stroke-width="0.5" stroke-linecap="round" stroke-linejoin="round" /><path d="M96.8 192 L96.5 180" fill="none" stroke="#b5b5b5" stroke-width="0.6" stroke-linecap="round" stroke-linejoin="round" /><path d="M140 199 L160 195 L178 191" fill="none" stroke="#b5b5b5" stroke-width="0.6" stroke-linecap="round" stroke-linejoin="round" /><path d="M83 154 L88.5 157" fill="none" stroke="#b5b5b5" stroke-width="0.6" stroke-linecap="round" stroke-linejoin="round" /><path d="M98 193 L106 189 L112 191 L112 207 L104 208 L98 207Z" fill="#fff" stroke="#464646" stroke-width="0.9" stroke-linejoin="round" /><path d="M104 191.5 L104 207.5" fill="none" stroke="#464646" stroke-width="0.6" stroke-linecap="round" stroke-linejoin="round" /><path d="M71.5 210.8 L97.5 194.8 L99.5 201.3 L76.3 217.3Z" fill="#fff" stroke="#464646" stroke-width="0.9" stroke-linejoin="round" /><ellipse cx="73.9" cy="214" rx="2.4" ry="3.5" fill="#fff" stroke="#464646" stroke-width="0.9" transform="rotate(-32 73.9 214)"/><path d="M80 207 L96 197.5" fill="none" stroke="#aaa" stroke-width="0.5" stroke-linecap="round" stroke-linejoin="round" /><rect x="86.5" y="180.2" width="3.4" height="4" rx="1" fill="#ddd" stroke="#333" stroke-width="0.7" transform="rotate(-10 88.2 182.2)"/><rect x="97.3" y="178.1" width="3.4" height="4" rx="1" fill="#ddd" stroke="#333" stroke-width="0.7" transform="rotate(-10 99 180.1)"/><rect x="120.1" y="191.1" width="3.4" height="4" rx="1" fill="#ddd" stroke="#333" stroke-width="0.7" transform="rotate(-10 121.8 193.1)"/><rect x="127.6" y="205.2" width="3.4" height="4" rx="1" fill="#ddd" stroke="#333" stroke-width="0.7" transform="rotate(-10 129.3 207.2)"/><ellipse cx="165" cy="203" rx="2.6" ry="2.6" fill="none" stroke="#464646" stroke-width="0.7"/><ellipse cx="179" cy="195.5" rx="1.8" ry="2.6" fill="none" stroke="#464646" stroke-width="0.7"/><path d="M158 204 L160 199 L166 198.5 L170 201" fill="none" stroke="#464646" stroke-width="0.6" stroke-linecap="round" stroke-linejoin="round" /><path d="M171 194 L174 191 L181 192" fill="none" stroke="#8c8c8c" stroke-width="0.5" stroke-linecap="round" stroke-linejoin="round" /><path d="M38.5 205 C37.77 205.27 35.92 205.47 34.1 206.6 C32.28 207.73 29.4 210.02 27.6 211.8 C25.8 213.58 24.08 215.63 23.3 217.3 C22.52 218.97 22.4 220.35 22.9 221.8 C23.4 223.25 24.28 224.48 26.3 226 C28.32 227.52 28.55 227.22 35 230.9 C41.45 234.58 55 242.52 65 248.1 C75 253.68 89.33 261.32 95 264.4 C100.67 267.48 97.67 266.28 99 266.6 C100.33 266.92 101.67 266.67 103 266.3 C104.33 265.93 104.79 265.78 107 264.4 C109.21 263.02 114.25 259.4 116.25 258 C118.25 256.6 118.54 256.33 119 256" fill="none" stroke="#464646" stroke-width="3.5" stroke-linecap="round" stroke-linejoin="round"/><path d="M38.5 205 C37.77 205.27 35.92 205.47 34.1 206.6 C32.28 207.73 29.4 210.02 27.6 211.8 C25.8 213.58 24.08 215.63 23.3 217.3 C22.52 218.97 22.4 220.35 22.9 221.8 C23.4 223.25 24.28 224.48 26.3 226 C28.32 227.52 28.55 227.22 35 230.9 C41.45 234.58 55 242.52 65 248.1 C75 253.68 89.33 261.32 95 264.4 C100.67 267.48 97.67 266.28 99 266.6 C100.33 266.92 101.67 266.67 103 266.3 C104.33 265.93 104.79 265.78 107 264.4 C109.21 263.02 114.25 259.4 116.25 258 C118.25 256.6 118.54 256.33 119 256" fill="none" stroke="#fff" stroke-width="1.7" stroke-linecap="round" stroke-linejoin="round"/><path d="M34.5 205 C35.08 204.17 37.25 202.6 38.5 202.3 C39.75 202 41.45 202.67 42 203.2 C42.55 203.73 42.47 204.73 41.8 205.5 C41.13 206.27 39.13 207.5 38 207.8 C36.87 208.1 35.58 207.77 35 207.3 C34.42 206.83 33.92 205.83 34.5 205Z" fill="#fff" stroke="#464646" stroke-width="0.9" stroke-linejoin="round" /><path d="M117.5 255.5 C117.62 254.5 119 252.92 120 252.3 C121 251.68 122.73 251.58 123.5 251.8 C124.27 252.02 124.77 252.7 124.6 253.6 C124.43 254.5 123.38 256.42 122.5 257.2 C121.62 257.98 120.13 258.58 119.3 258.3 C118.47 258.02 117.38 256.5 117.5 255.5Z" fill="#fff" stroke="#464646" stroke-width="0.9" stroke-linejoin="round" /><ellipse cx="123" cy="254.5" rx="1.3" ry="2.4" fill="none" stroke="#555" stroke-width="0.6" transform="rotate(35 123 254.5)"/><path d="M19.4 259.75 L20.5 258 L23.65 256.4 L26.8 256.4 L29.5 258 L30.6 260.2 L30.4 263.4 L29.5 265.2 L27.25 267.4 L25.5 267.9 L23.4 266.5 L20.5 265.2 L19.4 263.8Z" fill="#fff" stroke="#464646" stroke-width="1.0" stroke-linejoin="round" /><path d="M22.3 261.1 L25 263.8 L29 260.65 L29.3 264.8 L27 267 L25.5 267.5 L23.2 265.8 Z" fill="#d8d8d8" stroke="none"/><path d="M20.5 260.65 L22.3 261.1 L25 263.8 L29 260.65" fill="none" stroke="#464646" stroke-width="0.7" stroke-linecap="round" stroke-linejoin="round" /><path d="M22.3 261.1 L22.3 265.5" fill="none" stroke="#464646" stroke-width="0.6" stroke-linecap="round" stroke-linejoin="round" /><path d="M25 263.8 L25.3 267.5" fill="none" stroke="#8c8c8c" stroke-width="0.5" stroke-linecap="round" stroke-linejoin="round" /><path d="M19.5 280.5 L23.5 279 L24.5 284 L27.5 286.5 L29.5 284 L29.8 278 L31.5 276 L32 278 L31 285 L28.5 288 L24.5 288 L22 284 L19.5 283.5 L18.8 281.5" fill="none" stroke="#464646" stroke-width="0.9" stroke-linecap="round" stroke-linejoin="round" /><path d="M21 281 L22.5 283.5" fill="none" stroke="#464646" stroke-width="0.6" stroke-linecap="round" stroke-linejoin="round" /><path d="M26 285 L28.5 285.5 L30.5 279" fill="none" stroke="#8c8c8c" stroke-width="0.5" stroke-linecap="round" stroke-linejoin="round" /><path d="M135.9 249.5 C136.07 248.88 137.15 248.25 138 248.25 C138.85 248.25 139.75 249.12 141 249.5 C142.25 249.88 144.58 249.92 145.5 250.5 C146.42 251.08 146.58 252.08 146.5 253 C146.42 253.92 145.75 255.35 145 256 C144.25 256.65 142.92 257.23 142 256.9 C141.08 256.57 140.33 254.82 139.5 254 C138.67 253.18 137.6 252.75 137 252 C136.4 251.25 135.73 250.12 135.9 249.5Z" fill="#fff" stroke="#464646" stroke-width="0.9" stroke-linejoin="round" /><path d="M142 256.5 L140 262.5" fill="none" stroke="#464646" stroke-width="2.7" stroke-linecap="round" stroke-linejoin="round"/><path d="M142 256.5 L140 262.5" fill="none" stroke="#fff" stroke-width="0.9" stroke-linecap="round" stroke-linejoin="round"/><path d="M133.3 263 C133.38 262.2 135.05 261.37 136 261.2 C136.95 261.03 138 261.78 139 262 C140 262.22 141.17 262.08 142 262.5 C142.83 262.92 143.75 263.58 144 264.5 C144.25 265.42 144.08 267.15 143.5 268 C142.92 268.85 141.5 269.52 140.5 269.6 C139.5 269.68 138.33 269.1 137.5 268.5 C136.67 267.9 136.2 266.92 135.5 266 C134.8 265.08 133.22 263.8 133.3 263Z" fill="#fff" stroke="#464646" stroke-width="0.9" stroke-linejoin="round" /><g transform="translate(84.4 291.3) rotate(-30)"><rect x="-4.75" y="-3.15" width="9.5" height="6.3" rx="2.2" fill="#fff" stroke="#3a3a3a" stroke-width="0.9"/><ellipse cx="-2.55" cy="0" rx="1.89" ry="3.15" fill="none" stroke="#666" stroke-width="0.6"/></g><g transform="translate(36.8 328.4) rotate(-45)"><rect x="-4.25" y="-3.25" width="8.5" height="6.5" rx="2.27" fill="#fff" stroke="#3a3a3a" stroke-width="0.9"/><ellipse cx="-1.98" cy="0" rx="1.95" ry="3.25" fill="none" stroke="#666" stroke-width="0.6"/></g><g transform="translate(230.4 316.3) rotate(25)"><rect x="-4.75" y="-3.5" width="9.5" height="7" rx="2.45" fill="#fff" stroke="#3a3a3a" stroke-width="0.9"/><ellipse cx="2.3" cy="0" rx="2.1" ry="3.5" fill="none" stroke="#666" stroke-width="0.6"/></g><g transform="translate(155.6 369.5) rotate(-30)"><rect x="-4.5" y="-3.5" width="9" height="7" rx="2.45" fill="#fff" stroke="#3a3a3a" stroke-width="0.9"/><ellipse cx="-2.05" cy="0" rx="2.1" ry="3.5" fill="none" stroke="#666" stroke-width="0.6"/></g><g transform="translate(287 217.5) rotate(35)"><rect x="-4.5" y="-3.5" width="9" height="7" rx="2.45" fill="#fff" stroke="#3a3a3a" stroke-width="0.9"/><ellipse cx="2.05" cy="0" rx="2.1" ry="3.5" fill="none" stroke="#666" stroke-width="0.6"/></g><path d="M168.8 288 C168.65 286.65 168.8 284.85 169.1 283.8 C169.4 282.75 169.95 282.15 170.6 281.7 C171.25 281.25 172.25 281.15 173 281.1 C173.75 281.05 174.7 280.75 175.1 281.4 C175.5 282.05 174.85 284.35 175.4 285 C175.95 285.65 177.6 285.4 178.4 285.3 C179.2 285.2 179.5 284.6 180.2 284.4 C180.9 284.2 181.8 283.75 182.6 284.1 C183.4 284.45 184.1 285.75 185 286.5 C185.9 287.25 187.1 288.05 188 288.6 C188.9 289.15 189.85 289.35 190.4 289.8 C190.95 290.25 191.5 290.6 191.3 291.3 C191.1 292 189.85 293.35 189.2 294 C188.55 294.65 188.3 295 187.4 295.2 C186.5 295.4 184.9 295.35 183.8 295.2 C182.7 295.05 182.1 294.5 180.8 294.3 C179.5 294.1 177.3 294.15 176 294 C174.7 293.85 174 293.75 173 293.4 C172 293.05 170.7 292.8 170 291.9 C169.3 291 168.95 289.35 168.8 288Z" fill="#fff" stroke="#464646" stroke-width="0.9" stroke-linejoin="round" /><path d="M170 288 L176 288.5 L181 288 L184 292 L189 294" fill="none" stroke="#b5b5b5" stroke-width="0.6" stroke-linecap="round" stroke-linejoin="round" /><path d="M171 282.5 L172 286 L174.5 285.5" fill="none" stroke="#464646" stroke-width="0.6" stroke-linecap="round" stroke-linejoin="round" /><path d="M220 288.5 C227.17 284.25 255 267.45 263 263 C271 258.55 265.83 261.97 268 261.8 C270.17 261.63 274.67 261.97 276 262" fill="none" stroke="#464646" stroke-width="4.2" stroke-linecap="round" stroke-linejoin="round"/><path d="M220 288.5 C227.17 284.25 255 267.45 263 263 C271 258.55 265.83 261.97 268 261.8 C270.17 261.63 274.67 261.97 276 262" fill="none" stroke="#fff" stroke-width="2.4" stroke-linecap="round" stroke-linejoin="round"/><path d="M210.5 289.5 C211 288.55 211.92 286.92 213 286.3 C214.08 285.68 215.67 285.65 217 285.8 C218.33 285.95 220.12 286.33 221 287.2 C221.88 288.07 222.25 289.62 222.3 291 C222.35 292.38 222.02 294.33 221.3 295.5 C220.58 296.67 219.3 297.58 218 298 C216.7 298.42 214.7 298.42 213.5 298 C212.3 297.58 211.38 296.5 210.8 295.5 C210.22 294.5 210.05 293 210 292 C209.95 291 210 290.45 210.5 289.5Z" fill="#fff" stroke="#464646" stroke-width="0.9" stroke-linejoin="round" /><ellipse cx="215.2" cy="292.6" rx="3.6" ry="4.9" fill="none" stroke="#464646" stroke-width="0.8" transform="rotate(15 215.2 292.6)"/><ellipse cx="215.4" cy="292.8" rx="1.6" ry="2.2" fill="none" stroke="#8c8c8c" stroke-width="0.6" transform="rotate(15 215.4 292.8)"/><path d="M275 259 L277.5 257 L281 257 L286.5 258.5 L287.5 261 L287 265 L284 268 L280 268 L276 267 L275 263Z" fill="#fff" stroke="#464646" stroke-width="0.9" stroke-linejoin="round" /><path d="M277.5 257 L278.5 260 L278.5 267.5" fill="none" stroke="#464646" stroke-width="0.6" stroke-linecap="round" stroke-linejoin="round" /><path d="M278.5 260 L286.5 259" fill="none" stroke="#464646" stroke-width="0.6" stroke-linecap="round" stroke-linejoin="round" /><ellipse cx="284" cy="263.5" rx="1.8" ry="2.4" fill="#888" stroke="#464646" stroke-width="0.6"/><path d="M111.5 295 C111.67 293.8 112.92 292.58 114 292.3 C115.08 292.02 116.17 292.02 118 293.3 C119.83 294.58 122.67 297.88 125 300 C127.33 302.12 129.5 304.17 132 306 C134.5 307.83 137 309.17 140 311 C143 312.83 146.92 314.92 150 317 C153.08 319.08 155.21 321.1 158.5 323.5 C161.79 325.9 167.12 329.43 169.75 331.4 C172.38 333.37 172.19 334.08 174.25 335.3 C176.31 336.52 179.94 337.75 182.1 338.7 C184.26 339.65 185.98 339.97 187.2 341 C188.42 342.03 189.22 343.6 189.4 344.9 C189.58 346.2 189.13 347.87 188.3 348.8 C187.47 349.73 185.62 350.68 184.4 350.5 C183.18 350.32 183.82 349.38 181 347.7 C178.18 346.02 171.62 342.93 167.5 340.4 C163.38 337.87 160 335.4 156.25 332.5 C152.5 329.6 148.88 326.08 145 323 C141.12 319.92 136.33 316.67 133 314 C129.67 311.33 127.5 309.17 125 307 C122.5 304.83 120 302.25 118 301 C116 299.75 114.08 300.5 113 299.5 C111.92 298.5 111.33 296.2 111.5 295Z" fill="#fff" stroke="#464646" stroke-width="0.9" stroke-linejoin="round" /><path d="M118 297.5 C120.83 299.33 129.67 304.83 135 308.5 C140.33 312.17 144.5 315.42 150 319.5 C155.5 323.58 162.83 329.5 168 333 C173.17 336.5 178.83 339.25 181 340.5" fill="none" stroke="#8c8c8c" stroke-width="0.5" stroke-linecap="round" stroke-linejoin="round" /><path d="M117 300 C119.67 301.92 127.83 307.75 133 311.5 C138.17 315.25 142.5 318.5 148 322.5 C153.5 326.5 160.67 332.08 166 335.5 C171.33 338.92 177.67 341.75 180 343" fill="none" stroke="#aaa" stroke-width="0.5" stroke-linecap="round" stroke-linejoin="round" /><ellipse cx="185" cy="346" rx="3.6" ry="3.6" fill="none" stroke="#464646" stroke-width="0.7"/><path d="M114 292.5 L115.5 297 L113 299.5" fill="none" stroke="#464646" stroke-width="0.6" stroke-linecap="round" stroke-linejoin="round" /><path d="M63.4 312.2 L68.1 309.4 L125.3 360 L125.6 365.2 L121.2 368.6 L116.9 366.6 L65.3 320.6 L63.3 317Z" fill="#fff" stroke="#464646" stroke-width="0.9" stroke-linejoin="round" /><path d="M63.4 312.2 L65.5 314.6 L118.6 362.2 L116.9 366.6" fill="none" stroke="#464646" stroke-width="0.7" stroke-linecap="round" stroke-linejoin="round" /><path d="M118.6 362.2 L125.3 360" fill="none" stroke="#464646" stroke-width="0.6" stroke-linecap="round" stroke-linejoin="round" /><path d="M67 313.2 L120.5 360.8" fill="none" stroke="#aaa" stroke-width="0.5" stroke-linecap="round" stroke-linejoin="round" /><path d="M120.2 361.7 L120.5 365 L122.5 366.5 L123.2 363.5" fill="none" stroke="#464646" stroke-width="0.6" stroke-linecap="round" stroke-linejoin="round" /><path d="M74 324.5 L76.5 323.4 L78.4 328.5 L76 330 Z" fill="#ddd" stroke="#333" stroke-width="0.6"/><path d="M95.5 343 L97.5 342.2 L99 347.5 L97 348.8 Z" fill="#ddd" stroke="#333" stroke-width="0.6"/><path d="M103 346 L104.5 348" fill="none" stroke="#8c8c8c" stroke-width="0.5" stroke-linecap="round" stroke-linejoin="round" /><path d="M320.3 206.9 C320.73 205.73 321.38 205.12 322 204.5 C322.62 203.88 323.17 203.78 324 203.2 C324.83 202.62 325.92 201.47 327 201 C328.08 200.53 329.42 200.63 330.5 200.4 C331.58 200.17 332.58 199.6 333.5 199.6 C334.42 199.6 335.17 200 336 200.4 C336.83 200.8 337.87 201.38 338.5 202 C339.13 202.62 339.43 202.82 339.8 204.1 C340.17 205.38 340.6 208.22 340.7 209.7 C340.8 211.18 340.55 212.08 340.4 213 C340.25 213.92 340.22 214.05 339.8 215.2 C339.38 216.35 338.62 218.77 337.9 219.9 C337.18 221.03 336.27 221.38 335.5 222 C334.73 222.62 334.13 223.18 333.3 223.6 C332.47 224.02 331.43 224.43 330.5 224.5 C329.57 224.57 328.93 224.47 327.7 224 C326.47 223.53 324.33 222.85 323.1 221.7 C321.87 220.55 320.92 218.8 320.3 217.1 C319.68 215.4 319.4 213.2 319.4 211.5 C319.4 209.8 319.87 208.07 320.3 206.9Z" fill="#fff" stroke="#464646" stroke-width="0.9" stroke-linejoin="round" /><path d="M322 208 C321.92 208.83 321.25 211.17 321.5 213 C321.75 214.83 323.17 218 323.5 219" fill="none" stroke="#8c8c8c" stroke-width="0.6" stroke-linecap="round" stroke-linejoin="round" /><ellipse cx="333.5" cy="215.2" rx="5.4" ry="5.9" fill="#f6f6f6" stroke="#464646" stroke-width="0.8" transform="rotate(-20 333.5 215.2)"/><ellipse cx="334" cy="215.6" rx="2.8" ry="3.2" fill="none" stroke="#555" stroke-width="0.6" transform="rotate(-20 334 215.6)"/><ellipse cx="325.9" cy="209.7" rx="0.9" ry="1.1" fill="#777" stroke="#444" stroke-width="0.4"/><ellipse cx="330.5" cy="204.5" rx="0.9" ry="1.1" fill="#777" stroke="#444" stroke-width="0.4"/><ellipse cx="337" cy="207" rx="0.9" ry="1.1" fill="#777" stroke="#444" stroke-width="0.4"/><ellipse cx="328" cy="219.5" rx="0.9" ry="1.1" fill="#777" stroke="#444" stroke-width="0.4"/><path d="M324 203.2 L322.5 201.8" fill="none" stroke="#464646" stroke-width="0.7" stroke-linecap="round" stroke-linejoin="round" /><path d="M339.8 215.2 L341.3 216.4" fill="none" stroke="#464646" stroke-width="0.7" stroke-linecap="round" stroke-linejoin="round" /><path d="M371.5 197 C371.5 193.17 371.17 178.78 371.5 174 C371.83 169.22 372.33 169.58 373.5 168.3 C374.67 167.02 376.78 166.3 378.5 166.3 C380.22 166.3 382.38 167.18 383.8 168.3 C385.22 169.42 386.3 171.22 387 173 C387.7 174.78 387.83 172.5 388 179 C388.17 185.5 388 206.5 388 212" fill="none" stroke="#464646" stroke-width="3.4" stroke-linecap="round" stroke-linejoin="round"/><path d="M371.5 197 C371.5 193.17 371.17 178.78 371.5 174 C371.83 169.22 372.33 169.58 373.5 168.3 C374.67 167.02 376.78 166.3 378.5 166.3 C380.22 166.3 382.38 167.18 383.8 168.3 C385.22 169.42 386.3 171.22 387 173 C387.7 174.78 387.83 172.5 388 179 C388.17 185.5 388 206.5 388 212" fill="none" stroke="#fff" stroke-width="1.6" stroke-linecap="round" stroke-linejoin="round"/><path d="M370.6 176 L372.4 176.6" fill="none" stroke="#aaa" stroke-width="0.4" stroke-linecap="round" stroke-linejoin="round" /><path d="M370.6 178 L372.4 178.6" fill="none" stroke="#aaa" stroke-width="0.4" stroke-linecap="round" stroke-linejoin="round" /><path d="M370.6 180 L372.4 180.6" fill="none" stroke="#aaa" stroke-width="0.4" stroke-linecap="round" stroke-linejoin="round" /><path d="M370.6 182 L372.4 182.6" fill="none" stroke="#aaa" stroke-width="0.4" stroke-linecap="round" stroke-linejoin="round" /><path d="M370.6 184 L372.4 184.6" fill="none" stroke="#aaa" stroke-width="0.4" stroke-linecap="round" stroke-linejoin="round" /><path d="M370.6 186 L372.4 186.6" fill="none" stroke="#aaa" stroke-width="0.4" stroke-linecap="round" stroke-linejoin="round" /><path d="M370.6 188 L372.4 188.6" fill="none" stroke="#aaa" stroke-width="0.4" stroke-linecap="round" stroke-linejoin="round" /><path d="M370.6 190 L372.4 190.6" fill="none" stroke="#aaa" stroke-width="0.4" stroke-linecap="round" stroke-linejoin="round" /><path d="M370.6 192 L372.4 192.6" fill="none" stroke="#aaa" stroke-width="0.4" stroke-linecap="round" stroke-linejoin="round" /><path d="M370.6 194 L372.4 194.6" fill="none" stroke="#aaa" stroke-width="0.4" stroke-linecap="round" stroke-linejoin="round" /><path d="M387.1 191 L388.9 191.6" fill="none" stroke="#aaa" stroke-width="0.4" stroke-linecap="round" stroke-linejoin="round" /><path d="M387.1 193 L388.9 193.6" fill="none" stroke="#aaa" stroke-width="0.4" stroke-linecap="round" stroke-linejoin="round" /><path d="M387.1 195 L388.9 195.6" fill="none" stroke="#aaa" stroke-width="0.4" stroke-linecap="round" stroke-linejoin="round" /><path d="M387.1 197 L388.9 197.6" fill="none" stroke="#aaa" stroke-width="0.4" stroke-linecap="round" stroke-linejoin="round" /><path d="M387.1 199 L388.9 199.6" fill="none" stroke="#aaa" stroke-width="0.4" stroke-linecap="round" stroke-linejoin="round" /><path d="M387.1 201 L388.9 201.6" fill="none" stroke="#aaa" stroke-width="0.4" stroke-linecap="round" stroke-linejoin="round" /><path d="M387.1 203 L388.9 203.6" fill="none" stroke="#aaa" stroke-width="0.4" stroke-linecap="round" stroke-linejoin="round" /><path d="M387.1 205 L388.9 205.6" fill="none" stroke="#aaa" stroke-width="0.4" stroke-linecap="round" stroke-linejoin="round" /><rect x="368.6" y="192.6" width="5.8" height="6.4" rx="1.8" fill="#fff" stroke="#333" stroke-width="0.9"/><path d="M368.8 195.5 L374.2 195.5" fill="none" stroke="#8c8c8c" stroke-width="0.5" stroke-linecap="round" stroke-linejoin="round" /><ellipse cx="387.7" cy="187.2" rx="4.7" ry="2.5" fill="#fff" stroke="#464646" stroke-width="0.9"/><ellipse cx="387.7" cy="186.6" rx="4.7" ry="2.2" fill="none" stroke="#8c8c8c" stroke-width="0.5"/><rect x="385.2" y="206.2" width="5.8" height="6.2" rx="1.8" fill="#fff" stroke="#333" stroke-width="0.9"/><path d="M385.4 209 L390.8 209" fill="none" stroke="#8c8c8c" stroke-width="0.5" stroke-linecap="round" stroke-linejoin="round" /><path d="M436.8 223.4 C438.35 223.28 438.45 224.32 439.1 225.75 C439.75 227.18 440.32 229.93 440.7 232 C441.08 234.07 440.63 237.03 441.4 238.2 C442.17 239.37 444.38 238.49 445.3 239 C446.22 239.51 446.77 240.35 446.9 241.25 C447.03 242.15 445.58 243.76 446.1 244.4 C446.62 245.04 448.85 244.83 450 245.1 C451.15 245.37 452.75 245.35 453 246 C453.25 246.65 452.27 247.72 451.5 249 C450.73 250.28 449.43 251.88 448.4 253.7 C447.37 255.52 446.72 257.85 445.3 259.9 C443.88 261.95 441.97 264.2 439.9 266 C437.83 267.8 435.35 269.53 432.9 270.7 C430.45 271.87 427.52 272.74 425.2 273 C422.88 273.26 420.82 273.15 419 272.25 C417.18 271.35 415.47 269.66 414.3 267.6 C413.13 265.54 412.26 263 412 259.9 C411.74 256.8 412.1 252.11 412.75 249 C413.4 245.89 414.36 243.97 415.9 241.25 C417.44 238.53 419.68 235.16 422 232.7 C424.32 230.24 427.33 228.05 429.8 226.5 C432.27 224.95 435.25 223.53 436.8 223.4Z" fill="#fff" stroke="#464646" stroke-width="0.9" stroke-linejoin="round" /><path d="M417.5 267 C417.17 265.17 415.33 259.83 415.5 256 C415.67 252.17 416.83 247.67 418.5 244 C420.17 240.33 422.92 236.58 425.5 234 C428.08 231.42 432.58 229.42 434 228.5" fill="none" stroke="#8a8a8a" stroke-width="0.55" stroke-linecap="round" stroke-linejoin="round" /><path d="M421 268.5 C420.67 266.58 418.83 260.75 419 257 C419.17 253.25 420.5 249.25 422 246 C423.5 242.75 427 238.92 428 237.5" fill="none" stroke="#aaa" stroke-width="0.5" stroke-linecap="round" stroke-linejoin="round" /><path d="M426 269.5 C427.5 269.08 432.17 268.67 435 267 C437.83 265.33 440.92 262.17 443 259.5 C445.08 256.83 446.75 252.42 447.5 251" fill="none" stroke="#8a8a8a" stroke-width="0.55" stroke-linecap="round" stroke-linejoin="round" /><path d="M428.5 265.5 C429.75 265.08 433.67 264.5 436 263 C438.33 261.5 441.42 257.58 442.5 256.5" fill="none" stroke="#8a8a8a" stroke-width="0.55" stroke-linecap="round" stroke-linejoin="round" /><path d="M441.5 250.91 L439.27 252.96 L437.95 256.39 L435.98 255.8 L433.72 257.66 L433.18 254.78 L431.3 253.97 L432.5 250.49 L432.1 247.49 L434.33 245.44 L435.65 242.01 L437.62 242.6 L439.88 240.74 L440.42 243.62 L442.3 244.43 L441.1 247.91Z" fill="#fff" stroke="#464646" stroke-width="0.8" stroke-linejoin="round" /><ellipse cx="436.8" cy="249.2" rx="2.6" ry="4.5" fill="none" stroke="#8a8a8a" stroke-width="0.5" transform="rotate(20 436.8 249.2)"/><path d="M441.4 238.2 L441 243 L444.5 246" fill="none" stroke="#464646" stroke-width="0.6" stroke-linecap="round" stroke-linejoin="round" /><ellipse cx="488.3" cy="279.1" rx="17.3" ry="26.2" fill="#fff" stroke="#464646" stroke-width="0.8" transform="rotate(29 488.3 279.1)"/><ellipse cx="488.6" cy="279.4" rx="16.1" ry="24.8" fill="none" stroke="#bbb" stroke-width="0.5" transform="rotate(29 488.6 279.4)"/><path d="M483 268 C482.5 269.33 480.42 273 480 276 C479.58 279 479.83 283.17 480.5 286 C481.17 288.83 483.42 291.83 484 293" fill="none" stroke="#aaa" stroke-width="0.5" stroke-linecap="round" stroke-linejoin="round" /><ellipse cx="493.5" cy="280.5" rx="11.5" ry="14.5" fill="none" stroke="#8c8c8c" stroke-width="0.6" transform="rotate(25 493.5 280.5)"/><ellipse cx="491.5" cy="281.5" rx="9" ry="12" fill="none" stroke="#aaa" stroke-width="0.5" transform="rotate(25 491.5 281.5)"/><path d="M484 272 L486 270" fill="none" stroke="#8c8c8c" stroke-width="0.5" stroke-linecap="round" stroke-linejoin="round" /><ellipse cx="495" cy="281.5" rx="4.2" ry="6.2" fill="none" stroke="#555" stroke-width="0.7" transform="rotate(25 495 281.5)"/><ellipse cx="495.3" cy="281.8" rx="2" ry="2.8" fill="none" stroke="#8c8c8c" stroke-width="0.5" transform="rotate(25 495.3 281.8)"/><ellipse cx="489" cy="273" rx="0.9" ry="1.1" fill="none" stroke="#8c8c8c" stroke-width="0.5"/><ellipse cx="500" cy="275" rx="0.9" ry="1.1" fill="none" stroke="#8c8c8c" stroke-width="0.5"/><ellipse cx="501" cy="288.5" rx="0.9" ry="1.1" fill="none" stroke="#8c8c8c" stroke-width="0.5"/><ellipse cx="490" cy="291" rx="0.9" ry="1.1" fill="none" stroke="#8c8c8c" stroke-width="0.5"/><path d="M528.3 306 L530 302 L534 301.2 L537.5 302.5 L538.9 306.5 L537 310.5 L533 312.5 L529.5 311Z" fill="#e4e4e4" stroke="#464646" stroke-width="0.9" stroke-linejoin="round" /><path d="M530 302 L531 306.5 L529.5 311" fill="none" stroke="#464646" stroke-width="0.6" stroke-linecap="round" stroke-linejoin="round" /><path d="M531 306.5 L535 307 L537.5 302.5" fill="none" stroke="#464646" stroke-width="0.6" stroke-linecap="round" stroke-linejoin="round" /><path d="M535 307 L537 310.5" fill="none" stroke="#464646" stroke-width="0.6" stroke-linecap="round" stroke-linejoin="round" /><path d="M550 320.5 C550.08 319.17 550.67 317.33 551.5 316 C552.33 314.67 553.83 313.17 555 312.5 C556.17 311.83 557.42 311.67 558.5 312 C559.58 312.33 560.95 313.42 561.5 314.5 C562.05 315.58 562.13 317.17 561.8 318.5 C561.47 319.83 560.63 321.5 559.5 322.5 C558.37 323.5 556.42 324.25 555 324.5 C553.58 324.75 551.83 324.67 551 324 C550.17 323.33 549.92 321.83 550 320.5Z" fill="#fff" stroke="#464646" stroke-width="0.9" stroke-linejoin="round" /><path d="M551 324 L552.5 323.3" fill="none" stroke="#111" stroke-width="1.2" stroke-linecap="round" stroke-linejoin="round" /><ellipse cx="345.8" cy="294.4" rx="17.6" ry="28.6" fill="#fff" stroke="#464646" stroke-width="0.9" transform="rotate(30 345.8 294.4)"/><ellipse cx="345.9" cy="294.5" rx="15.3" ry="25.8" fill="none" stroke="#555" stroke-width="0.7" transform="rotate(30 345.9 294.5)"/><ellipse cx="343.9" cy="293.5" rx="4.5" ry="6.3" fill="none" stroke="#464646" stroke-width="0.9" transform="rotate(25 343.9 293.5)"/><ellipse cx="344.7" cy="279.4" rx="2.2" ry="5" fill="none" stroke="#464646" stroke-width="0.9" transform="rotate(52 344.7 279.4)"/><ellipse cx="344.7" cy="279.4" rx="0.9" ry="3.3" fill="none" stroke="#8c8c8c" stroke-width="0.5" transform="rotate(52 344.7 279.4)"/><path d="M353.5 281 L354 288 L353.3 296" fill="none" stroke="#464646" stroke-width="0.6" stroke-linecap="round" stroke-linejoin="round" /><path d="M356.2 280 L356.8 287 L356.2 294" fill="none" stroke="#464646" stroke-width="0.6" stroke-linecap="round" stroke-linejoin="round" /><path d="M358.3 281.5 L358.6 289" fill="none" stroke="#8c8c8c" stroke-width="0.5" stroke-linecap="round" stroke-linejoin="round" /><path d="M351 288.5 L354 288 L358.8 285" fill="none" stroke="#464646" stroke-width="0.6" stroke-linecap="round" stroke-linejoin="round" /><path d="M352.5 291 L357.5 293.5" fill="none" stroke="#8c8c8c" stroke-width="0.5" stroke-linecap="round" stroke-linejoin="round" /><path d="M330.8 296 L330.8 307 L334.8 308.3 L335.3 298.3 L330.8 296" fill="none" stroke="#464646" stroke-width="0.6" stroke-linecap="round" stroke-linejoin="round" /><path d="M332.8 298.5 L332.8 306.5" fill="none" stroke="#8c8c8c" stroke-width="0.5" stroke-linecap="round" stroke-linejoin="round" /><path d="M336.5 292.5 L338.3 298.5 L337.5 303" fill="none" stroke="#8c8c8c" stroke-width="0.5" stroke-linecap="round" stroke-linejoin="round" /><path d="M345.5 299.8 L349.5 300.8 L353 304.5" fill="none" stroke="#464646" stroke-width="0.6" stroke-linecap="round" stroke-linejoin="round" /><path d="M348.5 297.5 L352.5 299" fill="none" stroke="#8c8c8c" stroke-width="0.5" stroke-linecap="round" stroke-linejoin="round" /><path d="M337 308.5 C338.33 308.67 342.5 309.75 345 309.5 C347.5 309.25 350.83 307.42 352 307" fill="none" stroke="#8c8c8c" stroke-width="0.6" stroke-linecap="round" stroke-linejoin="round" /><path d="M343.5 310.5 L344.7 313.8" fill="none" stroke="#999" stroke-width="0.5" stroke-linecap="round" stroke-linejoin="round" /><path d="M345.7 310.7 L346.9 313.4" fill="none" stroke="#999" stroke-width="0.5" stroke-linecap="round" stroke-linejoin="round" /><path d="M347.9 310.9 L349.1 313" fill="none" stroke="#999" stroke-width="0.5" stroke-linecap="round" stroke-linejoin="round" /><path d="M350.1 311.1 L351.3 312.6" fill="none" stroke="#999" stroke-width="0.5" stroke-linecap="round" stroke-linejoin="round" /><path d="M352.3 311.3 L353.5 312.2" fill="none" stroke="#999" stroke-width="0.5" stroke-linecap="round" stroke-linejoin="round" /><path d="M354.5 311.5 L355.7 311.8" fill="none" stroke="#999" stroke-width="0.5" stroke-linecap="round" stroke-linejoin="round" /><path d="M340 286.5 L343 286" fill="none" stroke="#8c8c8c" stroke-width="0.5" stroke-linecap="round" stroke-linejoin="round" /><path d="M348.5 288.5 L350 293" fill="none" stroke="#8c8c8c" stroke-width="0.5" stroke-linecap="round" stroke-linejoin="round" /><path d="M331.5 288 L331 294" fill="none" stroke="#8c8c8c" stroke-width="0.5" stroke-linecap="round" stroke-linejoin="round" /><path d="M376.9 333.2 C376.85 330.87 376.82 327.87 377.5 325 C378.18 322.13 379.42 318.83 381 316 C382.58 313.17 384.67 310.33 387 308 C389.33 305.67 392.33 303.35 395 302 C397.67 300.65 400.5 300.1 403 299.9 C405.5 299.7 407.83 300.03 410 300.8 C412.17 301.57 414.33 302.8 416 304.5 C417.67 306.2 419.03 308.15 420 311 C420.97 313.85 421.55 318.1 421.8 321.6 C422.05 325.1 422.05 328.68 421.5 332 C420.95 335.32 419.92 338.75 418.5 341.5 C417.08 344.25 415.08 346.75 413 348.5 C410.92 350.25 408.5 351.37 406 352 C403.5 352.63 399.95 352.3 398 352.3 C396.05 352.3 396.13 352.38 394.3 352 C392.47 351.62 389.22 351.17 387 350 C384.78 348.83 382.53 346.83 381 345 C379.47 343.17 378.48 340.97 377.8 339 C377.12 337.03 376.95 335.53 376.9 333.2Z" fill="#fff" stroke="#464646" stroke-width="0.9" stroke-linejoin="round" /><path d="M380.5 345 Q376 330 384 316 Q391 305 400 301.5" fill="none" stroke="#8a8a8a" stroke-width="0.6"/><path d="M384.5 348 Q380 333 387.5 318 Q394 307 403 302" fill="none" stroke="#8a8a8a" stroke-width="0.6"/><ellipse cx="406.6" cy="328.9" rx="13.8" ry="24" fill="none" stroke="#444" stroke-width="0.75" transform="rotate(25 406.6 328.9)"/><ellipse cx="406.3" cy="329.5" rx="10.5" ry="16" fill="none" stroke="#8c8c8c" stroke-width="0.6" transform="rotate(22 406.3 329.5)"/><ellipse cx="405.6" cy="329.5" rx="3.6" ry="4.6" fill="none" stroke="#555" stroke-width="0.7" transform="rotate(15 405.6 329.5)"/><ellipse cx="404" cy="321.5" rx="0.9" ry="1.1" fill="none" stroke="#8c8c8c" stroke-width="0.5"/><ellipse cx="411.5" cy="325.5" rx="0.9" ry="1.1" fill="none" stroke="#8c8c8c" stroke-width="0.5"/><ellipse cx="410.5" cy="335.5" rx="0.9" ry="1.1" fill="none" stroke="#8c8c8c" stroke-width="0.5"/><ellipse cx="401.5" cy="337" rx="0.9" ry="1.1" fill="none" stroke="#8c8c8c" stroke-width="0.5"/><ellipse cx="399.5" cy="327.5" rx="0.9" ry="1.1" fill="none" stroke="#8c8c8c" stroke-width="0.5"/><path d="M289.4 324.1 C289.5 323.23 290.05 322.72 290.5 322.2 C290.95 321.68 291.83 321.52 292.1 321 C292.37 320.48 291.63 319.68 292.1 319.1 C292.57 318.52 293.83 317.95 294.9 317.5 C295.97 317.05 297.77 316.82 298.5 316.4 C299.23 315.98 298.8 315.05 299.3 315 C299.8 314.95 300.77 316.05 301.5 316.1 C302.23 316.15 302.92 315.12 303.7 315.3 C304.48 315.48 305.57 316.38 306.2 317.2 C306.83 318.02 307.32 319.33 307.5 320.2 C307.68 321.07 307.8 321.75 307.25 322.4 C306.7 323.05 305.26 323.55 304.2 324.1 C303.14 324.65 301.9 325.15 300.9 325.7 C299.9 326.25 299.3 326.75 298.2 327.4 C297.1 328.05 295.4 329.28 294.3 329.6 C293.2 329.92 292.33 329.67 291.6 329.3 C290.87 328.93 290.27 328.27 289.9 327.4 C289.53 326.53 289.3 324.97 289.4 324.1Z" fill="#fff" stroke="#464646" stroke-width="0.9" stroke-linejoin="round" /><ellipse cx="292.6" cy="326" rx="2.6" ry="3.1" fill="none" stroke="#464646" stroke-width="0.8" transform="rotate(-30 292.6 326)"/><path d="M307 342.9 C306.05 342.7 303.22 343.23 301.3 344 C299.38 344.77 297.23 345.57 295.5 347.5 C293.77 349.43 291.95 352.92 290.9 355.6 C289.85 358.28 289.2 361.12 289.2 363.6 C289.2 366.08 289.85 368.68 290.9 370.5 C291.95 372.32 293.77 373.63 295.5 374.5 C297.23 375.37 299.48 375.3 301.3 375.7 C303.12 376.1 305.45 377 306.4 376.9 C307.35 376.8 307.18 375.78 307 375.1 C306.82 374.42 305.58 373.57 305.3 372.8 C305.02 372.03 305.97 370.88 305.3 370.5 C304.63 370.12 302.65 370.88 301.3 370.5 C299.95 370.12 297.97 369.53 297.2 368.2 C296.43 366.87 296.4 364.42 296.7 362.5 C297 360.58 297.85 358.43 299 356.7 C300.15 354.97 302.37 353.43 303.6 352.1 C304.83 350.77 305.83 349.85 306.4 348.7 C306.97 347.55 306.9 346.17 307 345.2 C307.1 344.23 307.95 343.1 307 342.9Z" fill="#fff" stroke="#464646" stroke-width="0.9" stroke-linejoin="round" /><path d="M307.6 341.2 C308.28 340.23 310.98 340 312.8 340 C314.62 340 316.78 340.43 318.5 341.2 C320.22 341.97 321.85 342.97 323.1 344.6 C324.35 346.23 325.42 348.6 326 351 C326.58 353.4 326.88 356.5 326.6 359 C326.32 361.5 325.45 363.88 324.3 366 C323.15 368.12 321.43 370.37 319.7 371.7 C317.97 373.03 315.82 373.82 313.9 374 C311.98 374.18 309.45 373.28 308.2 372.8 C306.95 372.32 306.7 371.67 306.4 371.1 C306.1 370.53 305.72 370.07 306.4 369.4 C307.08 368.73 309.35 368.25 310.5 367.1 C311.65 365.95 312.73 364.42 313.3 362.5 C313.87 360.58 313.98 357.9 313.9 355.6 C313.82 353.3 313.67 350.33 312.8 348.7 C311.93 347.07 309.57 347.05 308.7 345.8 C307.83 344.55 306.92 342.17 307.6 341.2Z" fill="#fff" stroke="#464646" stroke-width="0.9" stroke-linejoin="round" /><path d="M300 346.5 C299.17 347.33 296.25 349.58 295 351.5 C293.75 353.42 292.97 355.67 292.5 358 C292.03 360.33 291.87 363.33 292.2 365.5 C292.53 367.67 293.2 369.67 294.5 371 C295.8 372.33 299.08 373.08 300 373.5" fill="none" stroke="#555" stroke-width="0.6" stroke-linecap="round" stroke-linejoin="round" /><path d="M317.4 343.5 C318.08 344.17 320.48 345.75 321.5 347.5 C322.52 349.25 323.18 351.67 323.5 354 C323.82 356.33 323.82 359.25 323.4 361.5 C322.98 363.75 322.07 365.92 321 367.5 C319.93 369.08 317.67 370.42 317 371" fill="none" stroke="#555" stroke-width="0.6" stroke-linecap="round" stroke-linejoin="round" /><path d="M302.5 345.5 L303.5 349" fill="none" stroke="#8c8c8c" stroke-width="0.5" stroke-linecap="round" stroke-linejoin="round" /><path d="M294 365.5 L297 365" fill="none" stroke="#8c8c8c" stroke-width="0.5" stroke-linecap="round" stroke-linejoin="round" /><path d="M316 342 L316.5 346" fill="none" stroke="#8c8c8c" stroke-width="0.5" stroke-linecap="round" stroke-linejoin="round" /><path d="M321.5 360 L324.5 360" fill="none" stroke="#8c8c8c" stroke-width="0.5" stroke-linecap="round" stroke-linejoin="round" /><path d="M307 342.9 L307 345.2" fill="none" stroke="#464646" stroke-width="0.8" stroke-linecap="round" stroke-linejoin="round" /><path d="M339.5 351.4 L344 348.6" fill="none" stroke="#222" stroke-width="1.0" stroke-linecap="round" stroke-linejoin="round" /><path d="M344.4 347.4 L355.4 341.2" fill="none" stroke="#222" stroke-width="2.8" stroke-linecap="round" stroke-linejoin="round" /><path d="M344.4 347.4 L355.4 341.2" fill="none" stroke="#888" stroke-width="0.8" stroke-linecap="round" stroke-linejoin="round" stroke-dasharray="0.8 0.8"/><path d="M355.4 336.2 L357 337.5 L358.4 340.4" fill="none" stroke="#222" stroke-width="1.0" stroke-linecap="round" stroke-linejoin="round" /></svg>
</body></html>
